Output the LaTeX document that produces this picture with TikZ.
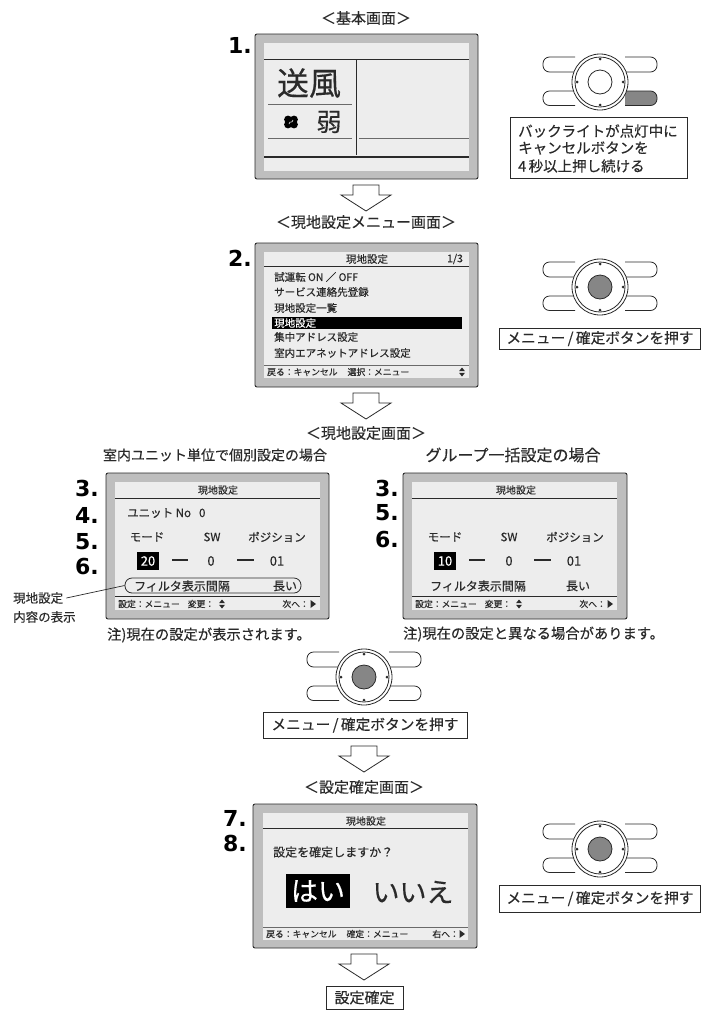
\documentclass[tikz,border=0pt]{standalone}
\usepackage{fontspec}
\setmainfont[FakeBold=0.35]{Noto Sans CJK JP}
\newfontfamily\numfont{DejaVu Sans}
\definecolor{ink}{HTML}{2A2A2A}
\definecolor{bezel}{HTML}{BEBEBE}
\definecolor{lcd}{HTML}{EDEDED}
\definecolor{pressed}{HTML}{868686}
\newcommand{\fs}[1]{\fontsize{#1}{#1}\selectfont}
\tikzset{
  txt/.style={text=ink,inner sep=0pt,font=\fs{#1}},
  txt/.default=10,
  stepno/.style={text=black,inner sep=0pt,font=\numfont\bfseries\fontsize{22}{22}\selectfont},
  bezelbox/.style={draw=ink,line width=0.9pt,fill=bezel,rounded corners=2pt},
  lcdbox/.style={fill=lcd,draw=none},
  rule/.style={draw=ink,line width=0.9pt},
  thinrule/.style={draw=ink!70,line width=0.7pt},
  msgbox/.style={draw=ink,line width=0.8pt,fill=white},
  blockarrow/.style={draw=ink,line width=0.8pt,fill=white,line join=miter},
  ctrlline/.style={draw=ink,line width=0.8pt},
}
\newcommand{\blockdown}[2]{%
  \draw[blockarrow] (#1-13,#2) -- (#1+13,#2) -- (#1+13,#2+10) -- (#1+25,#2+10) -- (#1,#2+26) -- (#1-25,#2+10) -- (#1-13,#2+10) -- cycle;}
% x, y, fill of centre, fill of lower right pill
\newcommand{\controller}[4]{%
  \begin{scope}[shift={(#1,#2)}]
    \draw[ctrlline,fill=white,rounded corners=6.5pt] (-25,-25) -- (-57,-25) -- (-57,-10) -- (-25,-10);
    \draw[ctrlline,fill=white,rounded corners=6.5pt] (25,-25) -- (57,-25) -- (57,-10) -- (25,-10);
    \draw[ctrlline,fill=white,rounded corners=6.5pt] (-25,9) -- (-57,9) -- (-57,23.5) -- (-25,23.5);
    \draw[ctrlline,fill=#4,rounded corners=6.5pt] (25,9) -- (57,9) -- (57,23.5) -- (25,23.5);
    \draw[ctrlline,fill=white] (0,0) circle[radius=28];
    \draw[ctrlline] (0,0) circle[radius=25];
    \draw[ctrlline,fill=#3] (0,0) circle[radius=12];
    \fill[ink] (0,-23) circle[radius=1.5] (0,23) circle[radius=1.5] (-23,0) circle[radius=1.5] (23,0) circle[radius=1.5];
  \end{scope}}
\newcommand{\updown}[2]{%
  \fill[ink] (#1-3,#2-0.8) -- (#1+3,#2-0.8) -- (#1,#2-4.5) -- cycle;
  \fill[ink] (#1-3,#2+0.8) -- (#1+3,#2+0.8) -- (#1,#2+4.5) -- cycle;}
\newcommand{\nexttri}[2]{%
  \fill[ink] (#1-2.5,#2-4) -- (#1-2.5,#2+4) -- (#1+3,#2) -- cycle;}
\begin{document}
\begin{tikzpicture}[x=1pt,y=-1pt]
\useasboundingbox[fill=white] (0,0) rectangle (701,1010);

% ---------- 1
\node[txt=15] (t1) at (366,18) {＜基本画面＞};
\node[stepno] (n1) at (240,45) {1.};
\draw[bezelbox] (255,34) rectangle (478,179);
\fill[lcd] (264,43) rectangle (469,171);
\draw[rule] (264,59) -- (469,59);
\draw[rule] (356,59) -- (356,155);
\draw[thinrule] (268,104) -- (352,104);
\draw[thinrule] (268,138) -- (352,138);
\draw[thinrule] (359,138) -- (469,138);
\draw[rule,line width=1.1pt] (264,157) -- (469,157);
\node[txt=32] (fan) at (309,83) {送風};
\node[txt=25] (weak) at (329,122) {弱};
\fill[black] (288,119.5) circle[radius=3.9] (294,119.5) circle[radius=3.9] (288,124.5) circle[radius=3.9] (294,124.5) circle[radius=3.9] (291,122) circle[radius=3];
\draw[white,line width=0.6pt] (289,124) .. controls (290,120) and (292,124) .. (293,120);
\controller{600}{82}{white}{pressed}
\node[msgbox,minimum width=177pt,minimum height=61pt,inner sep=0pt] (m1) at (598.5,147.5) {};
\node[txt=14.5,anchor=west] (m1a) at (518,131) {バックライトが点灯中に};
\node[txt=14.5,anchor=west] (m1b) at (518,148) {キャンセルボタンを};
\node[txt=14.5,anchor=west] (m1c) at (518,166) {4\,秒以上押し続ける};
\blockdown{366}{185}

% ---------- 2
\node[txt=15] (t2) at (366,222) {＜現地設定メニュー画面＞};
\node[stepno] (n2) at (240,258) {2.};
\draw[bezelbox] (255,243) rectangle (478,387);
\fill[lcd] (264,252) rectangle (469,378);
\draw[rule] (264,266) -- (469,266);
\node[txt=10.5] (h2) at (367,259) {現地設定};
\node[txt=10.5] (p2) at (455,259) {1/3};
\node[txt=10.5,anchor=west] (i1) at (274,277) {試運転 ON ／ OFF};
\node[txt=10.5,anchor=west] (i2) at (274,292) {サービス連絡先登録};
\node[txt=10.5,anchor=west] (i3) at (274,308) {現地設定一覧};
\fill[black] (272,317) rectangle (462,329);
\node[txt=10.5,text=white,anchor=west] (i4) at (274,323) {現地設定};
\node[txt=10.5,anchor=west] (i5) at (274,337) {集中アドレス設定};
\node[txt=10.5,anchor=west] (i6) at (274,353) {室内エアネットアドレス設定};
\draw[thinrule] (264,365) -- (469,365);
\node[txt=8.8,anchor=west] (f2) at (267,372) {戻る：キャンセル\hspace{10pt}選択：メニュー};
\updown{462}{372}
\controller{600}{287}{pressed}{white}
\node[msgbox,minimum width=201pt,minimum height=21pt,inner sep=0pt,txt=14.7] (m2) at (600,338.5) {メニュー\,/\,確定ボタンを押す};
\blockdown{366}{393}

% ---------- 3 heading
\node[txt=15] (t3) at (366,433) {＜現地設定画面＞};
\node[txt=14] (la) at (215,455) {室内ユニット単位で個別設定の場合};
\node[txt=16] (lb) at (513,455) {グループ一括設定の場合};

% ---------- left screen
\node[stepno] (a3) at (87,488) {3.};
\node[stepno] (a4) at (87,515) {4.};
\node[stepno] (a5) at (87,542) {5.};
\node[stepno] (a6) at (87,566) {6.};
\draw[bezelbox] (106,473) rectangle (329,619);
\fill[lcd] (115,482) rectangle (320,610);
\draw[rule] (115,498) -- (320,498);
\node[txt=10] (ah) at (218,490) {現地設定};
\node[txt=11.5,anchor=west] (aunit) at (127,513) {ユニット No\hspace{8pt}0};
\node[txt=11.5] (amode) at (147,537) {モード};
\node[txt=11.5] (asw) at (212,537) {SW};
\node[txt=11.5] (apos) at (277,537) {ポジション};
\node[fill=black,text=white,inner sep=0pt,minimum width=22pt,minimum height=18pt,font=\fs{13}] (aval) at (148,561) {20};
\draw[rule,line width=1.1pt] (172,560) -- (188,560);
\node[txt=13] (asw0) at (211,561) {0};
\draw[rule,line width=1.1pt] (237,560) -- (254,560);
\node[txt=13] (apos0) at (277,561) {01};
\node[draw=ink,line width=0.8pt,rounded corners=7pt,minimum width=176pt,minimum height=15pt,inner sep=0pt] (afilter) at (213,585.5) {};
\node[txt=12] (aft) at (182,586) {フィルタ表示間隔};
\node[txt=12] (afv) at (285,586) {長い};
\draw[rule] (115,596) -- (320,596);
\node[txt=8.8,anchor=west] (af) at (118,604) {設定：メニュー\hspace{8pt}変更：};
\updown{222}{604}
\node[txt=8.8,anchor=east] (afn) at (309,604) {次へ：};
\nexttri{313}{604}
\node[txt=12.5,anchor=west] (ann1) at (13,598) {現地設定};
\node[txt=12.5,anchor=west] (ann2) at (13,617) {内容の表示};
\draw[ink,line width=0.7pt] (ann1.east)++(3,0) -- (afilter.west);
\node[txt=14.3,anchor=west] (anote) at (107,635) {注)現在の設定が表示されます。};

% ---------- right screen
\node[stepno] (b3) at (387,488) {3.};
\node[stepno] (b5) at (387,513) {5.};
\node[stepno] (b6) at (387,539) {6.};
\draw[bezelbox] (403,473) rectangle (627,619);
\fill[lcd] (412,482) rectangle (617,610);
\draw[rule] (412,498) -- (617,498);
\node[txt=10] (bh) at (516,490) {現地設定};
\node[txt=11.5] (bmode) at (445,537) {モード};
\node[txt=11.5] (bsw) at (509,537) {SW};
\node[txt=11.5] (bpos) at (575,537) {ポジション};
\node[fill=black,text=white,inner sep=0pt,minimum width=22pt,minimum height=18pt,font=\fs{13}] (bval) at (445,561) {10};
\draw[rule,line width=1.1pt] (469,560) -- (485,560);
\node[txt=13] (bsw0) at (509,561) {0};
\draw[rule,line width=1.1pt] (534,560) -- (551,560);
\node[txt=13] (bpos0) at (574,561) {01};
\node[txt=12] (bft) at (478,586) {フィルタ表示間隔};
\node[txt=12] (bfv) at (578,586) {長い};
\draw[rule] (412,596) -- (617,596);
\node[txt=8.8,anchor=west] (bf) at (415,604) {設定：メニュー\hspace{8pt}変更：};
\updown{519}{604}
\node[txt=8.8,anchor=east] (bfn) at (606,604) {次へ：};
\nexttri{610}{604}
\node[txt=14.3,anchor=west] (bnote) at (403,634) {注)現在の設定と異なる場合があります。};

% ---------- middle controller
\controller{364}{677}{pressed}{white}
\node[msgbox,minimum width=204pt,minimum height=26pt,inner sep=0pt,txt=14.7] (m3) at (365,725) {メニュー\,/\,確定ボタンを押す};
\blockdown{364}{746}

% ---------- confirm
\node[txt=15] (t4) at (364,787) {＜設定確定画面＞};
\node[stepno] (n7) at (235,818) {7.};
\node[stepno] (n8) at (235,843) {8.};
\draw[bezelbox] (253,804) rectangle (477,948);
\fill[lcd] (263,813) rectangle (468,940);
\draw[rule] (263,828) -- (468,828);
\node[txt=10] (ch) at (366,821) {現地設定};
\node[txt=12,anchor=west] (cq) at (273,852) {設定を確定しますか？};
\node[fill=black,text=white,inner sep=0pt,minimum width=64pt,minimum height=34pt,font=\fs{27}] (yes) at (318,891) {はい};
\node[txt=27] (no) at (413,892) {いいえ};
\draw[thinrule] (263,927) -- (468,927);
\node[txt=8.8,anchor=west] (cf) at (266,934) {戻る：キャンセル\hspace{10pt}確定：メニュー};
\node[txt=8.8,anchor=east] (cfn) at (459,934) {右へ：};
\nexttri{462}{934}
\controller{600}{849}{pressed}{white}
\node[msgbox,minimum width=201pt,minimum height=27pt,inner sep=0pt,txt=14.7] (m4) at (600,898.5) {メニュー\,/\,確定ボタンを押す};
\blockdown{364}{954}
\node[msgbox,minimum width=77pt,minimum height=23pt,inner sep=0pt,txt=15] (done) at (364.5,997.5) {設定確定};
\end{tikzpicture}
\end{document}
